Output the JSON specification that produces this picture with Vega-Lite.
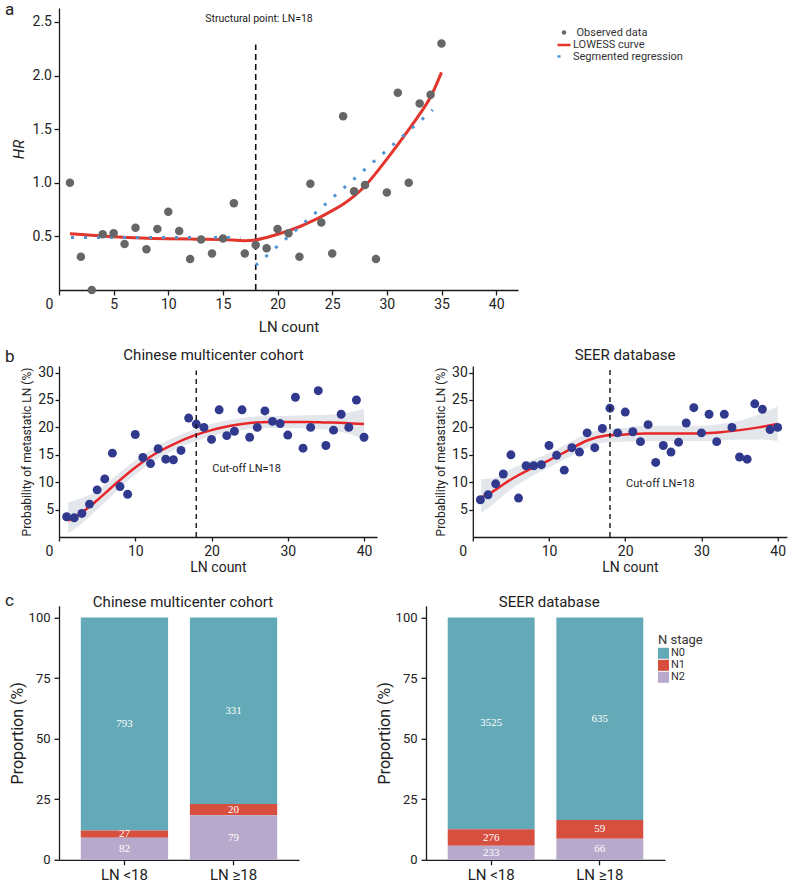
{
  "$schema": "https://vega.github.io/schema/vega-lite/v6.json",
  "background": "white",
  "padding": {"left": 5, "top": 1, "right": 5, "bottom": 5},
  "config": {
    "font": "Roboto",
    "view": {"stroke": null},
    "axis": {
      "grid": false,
      "domainColor": "#1a1a1a",
      "tickColor": "#1a1a1a",
      "domainWidth": 1.3,
      "tickWidth": 1.3,
      "labelColor": "#222222",
      "titleColor": "#222222",
      "labelFont": "Roboto",
      "titleFont": "Roboto",
      "titleFontWeight": "normal",
      "labelFontSize": 14,
      "titleFontSize": 14,
      "labelFlush": false
    },
    "title": {"font": "Roboto", "fontWeight": "normal", "color": "#222222", "fontSize": 15},
    "legend": {"labelFont": "Roboto", "titleFont": "Roboto", "titleFontWeight": "normal", "labelColor": "#333333", "titleColor": "#333333"}
  },
  "datasets": {
    "hr_observed": [
      {"ln": 1, "hr": 1.0}, {"ln": 2, "hr": 0.31}, {"ln": 3, "hr": 0.0}, {"ln": 4, "hr": 0.52}, {"ln": 5, "hr": 0.53},
      {"ln": 6, "hr": 0.43}, {"ln": 7, "hr": 0.58}, {"ln": 8, "hr": 0.38}, {"ln": 9, "hr": 0.57}, {"ln": 10, "hr": 0.73},
      {"ln": 11, "hr": 0.55}, {"ln": 12, "hr": 0.29}, {"ln": 13, "hr": 0.47}, {"ln": 14, "hr": 0.34}, {"ln": 15, "hr": 0.48},
      {"ln": 16, "hr": 0.81}, {"ln": 17, "hr": 0.34}, {"ln": 18, "hr": 0.42}, {"ln": 19, "hr": 0.39}, {"ln": 20, "hr": 0.57},
      {"ln": 21, "hr": 0.53}, {"ln": 22, "hr": 0.31}, {"ln": 23, "hr": 0.99}, {"ln": 24, "hr": 0.63}, {"ln": 25, "hr": 0.34},
      {"ln": 26, "hr": 1.62}, {"ln": 27, "hr": 0.92}, {"ln": 28, "hr": 0.98}, {"ln": 29, "hr": 0.29}, {"ln": 30, "hr": 0.91},
      {"ln": 31, "hr": 1.84}, {"ln": 32, "hr": 1.0}, {"ln": 33, "hr": 1.74}, {"ln": 34, "hr": 1.82}, {"ln": 35, "hr": 2.3}
    ],
    "hr_lowess": [
      {"ln": 1, "hr": 0.525}, {"ln": 3, "hr": 0.51}, {"ln": 5, "hr": 0.497}, {"ln": 7.5, "hr": 0.485}, {"ln": 10, "hr": 0.478},
      {"ln": 12.5, "hr": 0.474}, {"ln": 15, "hr": 0.471}, {"ln": 17, "hr": 0.46}, {"ln": 18, "hr": 0.467}, {"ln": 19, "hr": 0.49},
      {"ln": 20, "hr": 0.52}, {"ln": 21, "hr": 0.553}, {"ln": 22, "hr": 0.59}, {"ln": 23, "hr": 0.635}, {"ln": 24, "hr": 0.685},
      {"ln": 25, "hr": 0.74}, {"ln": 26, "hr": 0.80}, {"ln": 27, "hr": 0.875}, {"ln": 28, "hr": 0.97}, {"ln": 29, "hr": 1.09},
      {"ln": 30, "hr": 1.22}, {"ln": 31, "hr": 1.355}, {"ln": 32, "hr": 1.495}, {"ln": 33, "hr": 1.64}, {"ln": 34, "hr": 1.8},
      {"ln": 35, "hr": 2.03}
    ],
    "hr_segmented": [
      {"seg": "LN < 18", "ln": 1.1, "hr": 0.49}, {"seg": "LN < 18", "ln": 16.6, "hr": 0.49},
      {"seg": "LN >= 18", "ln": 18, "hr": 0.23}, {"seg": "LN >= 18", "ln": 34.2, "hr": 1.68}
    ],
    "cohort_points": [
      {"cohort": "Chinese", "ln": 1, "pct": 3.7}, {"cohort": "Chinese", "ln": 2, "pct": 3.5}, {"cohort": "Chinese", "ln": 3, "pct": 4.3},
      {"cohort": "Chinese", "ln": 4, "pct": 6.0}, {"cohort": "Chinese", "ln": 5, "pct": 8.6}, {"cohort": "Chinese", "ln": 6, "pct": 10.6},
      {"cohort": "Chinese", "ln": 7, "pct": 15.3}, {"cohort": "Chinese", "ln": 8, "pct": 9.2}, {"cohort": "Chinese", "ln": 9, "pct": 7.8},
      {"cohort": "Chinese", "ln": 10, "pct": 18.7}, {"cohort": "Chinese", "ln": 11, "pct": 14.5}, {"cohort": "Chinese", "ln": 12, "pct": 13.4},
      {"cohort": "Chinese", "ln": 13, "pct": 16.1}, {"cohort": "Chinese", "ln": 14, "pct": 14.2}, {"cohort": "Chinese", "ln": 15, "pct": 14.1},
      {"cohort": "Chinese", "ln": 16, "pct": 15.8}, {"cohort": "Chinese", "ln": 17, "pct": 21.7}, {"cohort": "Chinese", "ln": 18, "pct": 20.6},
      {"cohort": "Chinese", "ln": 19, "pct": 20.0}, {"cohort": "Chinese", "ln": 20, "pct": 17.8}, {"cohort": "Chinese", "ln": 21, "pct": 23.2},
      {"cohort": "Chinese", "ln": 22, "pct": 18.5}, {"cohort": "Chinese", "ln": 23, "pct": 19.3}, {"cohort": "Chinese", "ln": 24, "pct": 23.2},
      {"cohort": "Chinese", "ln": 25, "pct": 18.2}, {"cohort": "Chinese", "ln": 26, "pct": 20.0}, {"cohort": "Chinese", "ln": 27, "pct": 23.0},
      {"cohort": "Chinese", "ln": 28, "pct": 21.1}, {"cohort": "Chinese", "ln": 29, "pct": 20.7}, {"cohort": "Chinese", "ln": 30, "pct": 18.6},
      {"cohort": "Chinese", "ln": 31, "pct": 25.5}, {"cohort": "Chinese", "ln": 32, "pct": 16.2}, {"cohort": "Chinese", "ln": 33, "pct": 20.0},
      {"cohort": "Chinese", "ln": 34, "pct": 26.7}, {"cohort": "Chinese", "ln": 35, "pct": 16.7}, {"cohort": "Chinese", "ln": 36, "pct": 19.5},
      {"cohort": "Chinese", "ln": 37, "pct": 22.4}, {"cohort": "Chinese", "ln": 38, "pct": 20.0}, {"cohort": "Chinese", "ln": 39, "pct": 25.0},
      {"cohort": "Chinese", "ln": 40, "pct": 18.2},
      {"cohort": "SEER", "ln": 1, "pct": 6.8}, {"cohort": "SEER", "ln": 2, "pct": 7.7}, {"cohort": "SEER", "ln": 3, "pct": 9.7},
      {"cohort": "SEER", "ln": 4, "pct": 11.5}, {"cohort": "SEER", "ln": 5, "pct": 15.0}, {"cohort": "SEER", "ln": 6, "pct": 7.1},
      {"cohort": "SEER", "ln": 7, "pct": 13.0}, {"cohort": "SEER", "ln": 8, "pct": 13.0}, {"cohort": "SEER", "ln": 9, "pct": 13.2},
      {"cohort": "SEER", "ln": 10, "pct": 16.7}, {"cohort": "SEER", "ln": 11, "pct": 14.9}, {"cohort": "SEER", "ln": 12, "pct": 12.2},
      {"cohort": "SEER", "ln": 13, "pct": 16.3}, {"cohort": "SEER", "ln": 14, "pct": 15.5}, {"cohort": "SEER", "ln": 15, "pct": 19.0},
      {"cohort": "SEER", "ln": 16, "pct": 16.3}, {"cohort": "SEER", "ln": 17, "pct": 19.8}, {"cohort": "SEER", "ln": 18, "pct": 23.5},
      {"cohort": "SEER", "ln": 19, "pct": 19.0}, {"cohort": "SEER", "ln": 20, "pct": 22.8}, {"cohort": "SEER", "ln": 21, "pct": 19.2},
      {"cohort": "SEER", "ln": 22, "pct": 17.4}, {"cohort": "SEER", "ln": 23, "pct": 20.5}, {"cohort": "SEER", "ln": 24, "pct": 13.6},
      {"cohort": "SEER", "ln": 25, "pct": 16.7}, {"cohort": "SEER", "ln": 26, "pct": 15.5}, {"cohort": "SEER", "ln": 27, "pct": 17.3},
      {"cohort": "SEER", "ln": 28, "pct": 20.8}, {"cohort": "SEER", "ln": 29, "pct": 23.6}, {"cohort": "SEER", "ln": 30, "pct": 19.0},
      {"cohort": "SEER", "ln": 31, "pct": 22.4}, {"cohort": "SEER", "ln": 32, "pct": 17.4}, {"cohort": "SEER", "ln": 33, "pct": 22.4},
      {"cohort": "SEER", "ln": 34, "pct": 20.0}, {"cohort": "SEER", "ln": 35, "pct": 14.6}, {"cohort": "SEER", "ln": 36, "pct": 14.2},
      {"cohort": "SEER", "ln": 37, "pct": 24.3}, {"cohort": "SEER", "ln": 38, "pct": 23.3}, {"cohort": "SEER", "ln": 39, "pct": 19.6},
      {"cohort": "SEER", "ln": 40, "pct": 20.0}
    ],
    "cohort_fit": [
      {"cohort": "Chinese", "ln": 1.2, "pct": 3.0, "lo": 0.7, "hi": 6.3},
      {"cohort": "Chinese", "ln": 2.5, "pct": 4.0, "lo": 1.9, "hi": 6.9},
      {"cohort": "Chinese", "ln": 5, "pct": 6.7, "lo": 5.0, "hi": 8.4},
      {"cohort": "Chinese", "ln": 7.5, "pct": 9.8, "lo": 8.3, "hi": 11.2},
      {"cohort": "Chinese", "ln": 10, "pct": 12.7, "lo": 11.4, "hi": 14.0},
      {"cohort": "Chinese", "ln": 12.5, "pct": 15.1, "lo": 13.9, "hi": 16.3},
      {"cohort": "Chinese", "ln": 15, "pct": 16.9, "lo": 15.8, "hi": 18.1},
      {"cohort": "Chinese", "ln": 17.5, "pct": 18.4, "lo": 17.3, "hi": 19.5},
      {"cohort": "Chinese", "ln": 20, "pct": 19.5, "lo": 18.4, "hi": 20.6},
      {"cohort": "Chinese", "ln": 22.5, "pct": 20.3, "lo": 19.2, "hi": 21.4},
      {"cohort": "Chinese", "ln": 25, "pct": 20.8, "lo": 19.7, "hi": 21.9},
      {"cohort": "Chinese", "ln": 27.5, "pct": 21.0, "lo": 19.9, "hi": 22.1},
      {"cohort": "Chinese", "ln": 30, "pct": 21.0, "lo": 19.9, "hi": 22.1},
      {"cohort": "Chinese", "ln": 32.5, "pct": 21.0, "lo": 19.8, "hi": 22.2},
      {"cohort": "Chinese", "ln": 35, "pct": 20.9, "lo": 19.6, "hi": 22.3},
      {"cohort": "Chinese", "ln": 37.5, "pct": 20.8, "lo": 19.0, "hi": 22.6},
      {"cohort": "Chinese", "ln": 40, "pct": 20.6, "lo": 17.8, "hi": 23.4},
      {"cohort": "SEER", "ln": 1.1, "pct": 7.2, "lo": 4.4, "hi": 10.6},
      {"cohort": "SEER", "ln": 2.5, "pct": 8.2, "lo": 5.8, "hi": 10.7},
      {"cohort": "SEER", "ln": 5, "pct": 10.5, "lo": 8.7, "hi": 12.4},
      {"cohort": "SEER", "ln": 7.5, "pct": 12.4, "lo": 10.9, "hi": 13.9},
      {"cohort": "SEER", "ln": 10, "pct": 14.0, "lo": 12.7, "hi": 15.3},
      {"cohort": "SEER", "ln": 12.5, "pct": 15.8, "lo": 14.5, "hi": 17.1},
      {"cohort": "SEER", "ln": 15, "pct": 17.6, "lo": 16.3, "hi": 18.9},
      {"cohort": "SEER", "ln": 17.5, "pct": 18.5, "lo": 17.3, "hi": 19.7},
      {"cohort": "SEER", "ln": 20, "pct": 18.7, "lo": 17.4, "hi": 20.0},
      {"cohort": "SEER", "ln": 22.5, "pct": 18.9, "lo": 17.5, "hi": 20.3},
      {"cohort": "SEER", "ln": 25, "pct": 18.9, "lo": 17.5, "hi": 20.3},
      {"cohort": "SEER", "ln": 27.5, "pct": 18.9, "lo": 17.5, "hi": 20.3},
      {"cohort": "SEER", "ln": 30, "pct": 18.9, "lo": 17.5, "hi": 20.3},
      {"cohort": "SEER", "ln": 32.5, "pct": 19.1, "lo": 17.6, "hi": 20.6},
      {"cohort": "SEER", "ln": 35, "pct": 19.5, "lo": 17.8, "hi": 21.2},
      {"cohort": "SEER", "ln": 37.5, "pct": 20.0, "lo": 17.8, "hi": 22.3},
      {"cohort": "SEER", "ln": 40, "pct": 20.6, "lo": 17.5, "hi": 23.8}
    ],
    "stage_counts": [
      {"cohort": "Chinese", "grp": "LN <18", "stage": "N0", "n": 793},
      {"cohort": "Chinese", "grp": "LN <18", "stage": "N1", "n": 27},
      {"cohort": "Chinese", "grp": "LN <18", "stage": "N2", "n": 82},
      {"cohort": "Chinese", "grp": "LN ≥18", "stage": "N0", "n": 331},
      {"cohort": "Chinese", "grp": "LN ≥18", "stage": "N1", "n": 20},
      {"cohort": "Chinese", "grp": "LN ≥18", "stage": "N2", "n": 79},
      {"cohort": "SEER", "grp": "LN <18", "stage": "N0", "n": 3525},
      {"cohort": "SEER", "grp": "LN <18", "stage": "N1", "n": 276},
      {"cohort": "SEER", "grp": "LN <18", "stage": "N2", "n": 233},
      {"cohort": "SEER", "grp": "LN ≥18", "stage": "N0", "n": 635},
      {"cohort": "SEER", "grp": "LN ≥18", "stage": "N1", "n": 59},
      {"cohort": "SEER", "grp": "LN ≥18", "stage": "N2", "n": 66}
    ]
  },
  "spacing": 14,
  "resolve": {"scale": {"color": "independent"}, "legend": {"color": "independent"}},
  "vconcat": [
    {
      "title": {"text": "a", "anchor": "start", "frame": "group", "fontSize": 17, "dx": -54, "dy": 24, "offset": 0, "baseline": "alphabetic"},
      "width": 459,
      "height": 282,
      "encoding": {
        "x": {
          "field": "ln", "type": "quantitative",
          "scale": {"domain": [0, 42], "nice": false, "zero": false},
          "axis": {
            "values": [0, 5, 10, 15, 20, 25, 30, 35, 40], "title": "LN count", "titleFontSize": 15, "titlePadding": 8,
            "tickSize": 5, "labelPadding": 2,
            "labelOffset": {"condition": {"test": "datum.value === 0", "value": -10}, "value": 0}
          }
        },
        "y": {
          "field": "hr", "type": "quantitative",
          "scale": {"domain": [0, 2.63], "nice": false},
          "axis": {"values": [0.5, 1, 1.5, 2, 2.5], "format": ".1f", "title": "HR", "titleFontStyle": "italic", "titleFontSize": 15, "titlePadding": 6, "tickSize": 5, "labelPadding": 2.5}
        }
      },
      "layer": [
        {
          "data": {"values": [{"ln": 18, "hr": 0, "hr_top": 2.29}]},
          "mark": {"type": "rule", "strokeDash": [6, 4], "strokeWidth": 1.6, "color": "#111111"},
          "encoding": {"y2": {"field": "hr_top"}}
        },
        {
          "data": {"name": "hr_lowess"},
          "mark": {"type": "line", "strokeWidth": 3, "interpolate": "monotone"},
          "encoding": {
            "stroke": {
              "datum": "LOWESS curve", "type": "nominal",
              "scale": {"domain": ["LOWESS curve"], "range": ["#E2352B"]},
              "legend": {
                "title": null, "orient": "none", "legendX": 497, "legendY": 29, "padding": 0,
                "symbolType": "stroke", "symbolSize": 169, "symbolStrokeWidth": 2.5,
                "labelFontSize": 11, "labelOffset": 1
              }
            }
          }
        },
        {
          "data": {"name": "hr_segmented"},
          "mark": {"type": "line", "strokeWidth": 3, "strokeCap": "butt", "color": "#4E93D3"},
          "encoding": {
            "detail": {"field": "seg"},
            "strokeDash": {
              "datum": "Segmented regression", "type": "nominal",
              "scale": {"domain": ["Segmented regression"], "range": [[3, 10]]},
              "legend": {
                "title": null, "orient": "none", "legendX": 497, "legendY": 40.5, "padding": 0,
                "symbolType": "stroke", "symbolSize": 169, "symbolStrokeWidth": 2.5, "symbolStrokeColor": "#4E93D3",
                "labelFontSize": 11, "labelOffset": 1
              }
            }
          }
        },
        {
          "data": {"name": "hr_observed"},
          "mark": {"type": "circle", "size": 72, "opacity": 1},
          "encoding": {
            "color": {
              "datum": "Observed data", "type": "nominal",
              "scale": {"domain": ["Observed data"], "range": ["#666666"]},
              "legend": {
                "title": null, "orient": "none", "legendX": 499.5, "legendY": 19, "padding": 0,
                "symbolType": "circle", "symbolSize": 20,
                "labelFontSize": 11, "labelOffset": 7
              }
            }
          }
        },
        {
          "data": {"values": [{"ln": 18.3, "hr": 2.53, "label": "Structural point: LN=18"}]},
          "mark": {"type": "text", "fontSize": 10.5, "color": "#222222", "baseline": "middle"},
          "encoding": {"text": {"field": "label"}}
        }
      ]
    },
    {
      "spacing": 17.8,
      "resolve": {"scale": {"color": "independent"}, "legend": {"color": "independent"}},
      "vconcat": [
        {
          "title": {"text": "b", "anchor": "start", "frame": "group", "fontSize": 17, "dx": -54, "dy": 31, "offset": 0, "baseline": "alphabetic"},
          "bounds": "flush",
          "spacing": 95.8,
          "hconcat": [
            {
              "title": {"text": "Chinese multicenter cohort", "offset": 2.5, "dx": -4.5},
              "width": 318,
              "height": 171,
              "encoding": {
                "x": {
                  "field": "ln", "type": "quantitative",
                  "scale": {"domain": [0, 41.7], "nice": false, "zero": false},
                  "axis": {
                    "values": [0, 10, 20, 30, 40], "title": "LN count", "titlePadding": 2, "tickSize": 4, "labelPadding": 3,
                    "labelOffset": {"condition": {"test": "datum.value === 0", "value": -10}, "value": 0}
                  }
                },
                "y": {
                  "field": "pct", "type": "quantitative",
                  "scale": {"domain": [0, 31.2], "nice": false},
                  "axis": {"values": [5, 10, 15, 20, 25, 30], "title": "Probability of metastatic LN (%)", "titleFontSize": 12, "titlePadding": 4, "tickSize": 4, "labelPadding": 1.5}
                }
              },
              "layer": [
                {
                  "data": {"name": "cohort_fit"},
                  "transform": [{"filter": "datum.cohort === 'Chinese'"}],
                  "mark": {"type": "area", "color": "#d9dde4", "opacity": 0.75, "interpolate": "monotone"},
                  "encoding": {"y": {"field": "lo", "type": "quantitative"}, "y2": {"field": "hi"}}
                },
                {
                  "data": {"name": "cohort_fit"},
                  "transform": [{"filter": "datum.cohort === 'Chinese'"}],
                  "mark": {"type": "line", "color": "#E8262A", "strokeWidth": 2.5, "interpolate": "monotone"}
                },
                {
                  "data": {"name": "cohort_points"},
                  "transform": [{"filter": "datum.cohort === 'Chinese'"}],
                  "mark": {"type": "circle", "size": 80, "opacity": 1, "color": "#30398E"}
                },
                {
                  "data": {"values": [{"ln": 18, "pct": 0, "top": 30.4}]},
                  "mark": {"type": "rule", "strokeDash": [5, 4], "strokeWidth": 1.4, "color": "#111111"},
                  "encoding": {"y2": {"field": "top"}}
                },
                {
                  "data": {"values": [{"ln": 20.1, "pct": 12.4, "label": "Cut-off LN=18"}]},
                  "mark": {"type": "text", "fontSize": 11, "color": "#222222", "align": "left", "baseline": "middle"},
                  "encoding": {"text": {"field": "label"}}
                }
              ]
            },
            {
              "title": {"text": "SEER database", "offset": 2.5, "dx": -4.7},
              "width": 314,
              "height": 171,
              "encoding": {
                "x": {
                  "field": "ln", "type": "quantitative",
                  "scale": {"domain": [0, 41.2], "nice": false, "zero": false},
                  "axis": {
                    "values": [0, 10, 20, 30, 40], "title": "LN count", "titlePadding": 2, "tickSize": 4, "labelPadding": 3,
                    "labelOffset": {"condition": {"test": "datum.value === 0", "value": -10}, "value": 0}
                  }
                },
                "y": {
                  "field": "pct", "type": "quantitative",
                  "scale": {"domain": [0, 31.2], "nice": false},
                  "axis": {"values": [5, 10, 15, 20, 25, 30], "title": "Probability of metastatic LN (%)", "titleFontSize": 12, "titlePadding": 4, "tickSize": 4, "labelPadding": 1.5}
                }
              },
              "layer": [
                {
                  "data": {"name": "cohort_fit"},
                  "transform": [{"filter": "datum.cohort === 'SEER'"}],
                  "mark": {"type": "area", "color": "#d9dde4", "opacity": 0.75, "interpolate": "monotone"},
                  "encoding": {"y": {"field": "lo", "type": "quantitative"}, "y2": {"field": "hi"}}
                },
                {
                  "data": {"name": "cohort_fit"},
                  "transform": [{"filter": "datum.cohort === 'SEER'"}],
                  "mark": {"type": "line", "color": "#E8262A", "strokeWidth": 2.5, "interpolate": "monotone"}
                },
                {
                  "data": {"name": "cohort_points"},
                  "transform": [{"filter": "datum.cohort === 'SEER'"}],
                  "mark": {"type": "circle", "size": 80, "opacity": 1, "color": "#30398E"}
                },
                {
                  "data": {"values": [{"ln": 18, "pct": 0, "top": 30.5}]},
                  "mark": {"type": "rule", "strokeDash": [5, 4], "strokeWidth": 1.4, "color": "#111111"},
                  "encoding": {"y2": {"field": "top"}}
                },
                {
                  "data": {"values": [{"ln": 20.1, "pct": 9.6, "label": "Cut-off LN=18"}]},
                  "mark": {"type": "text", "fontSize": 11, "color": "#222222", "align": "left", "baseline": "middle"},
                  "encoding": {"text": {"field": "label"}}
                }
              ]
            }
          ]
        },
        {
          "title": {"text": "c", "anchor": "start", "frame": "group", "fontSize": 17, "dx": -54, "dy": 28.7, "offset": 0, "baseline": "alphabetic"},
          "bounds": "flush",
          "spacing": 127,
          "resolve": {"scale": {"color": "independent"}, "legend": {"color": "independent"}},
          "hconcat": [
            {
              "title": {"text": "Chinese multicenter cohort", "offset": -3.8, "dx": 4},
              "width": 240,
              "height": 254,
              "data": {"name": "stage_counts"},
              "transform": [
                {"filter": "datum.cohort === 'Chinese'"},
                {"stack": "n", "groupby": ["grp"], "sort": [{"field": "stage", "order": "descending"}], "offset": "normalize", "as": ["y0", "y1"]}
              ],
              "encoding": {
                "x": {
                  "field": "grp", "type": "nominal", "sort": ["LN <18", "LN ≥18"],
                  "scale": {"paddingInner": 0.2, "paddingOuter": 0.2},
                  "axis": {"title": null, "labelAngle": 0, "labelFontSize": 15, "tickSize": 5, "labelPadding": 3}
                }
              },
              "layer": [
                {
                  "mark": {"type": "bar"},
                  "encoding": {
                    "y": {
                      "field": "y0", "type": "quantitative",
                      "scale": {"domain": [0, 1.048], "nice": false},
                      "axis": {"values": [0, 0.25, 0.5, 0.75, 1], "labelExpr": "format(datum.value * 100, 'd')", "title": "Proportion (%)", "titleFontSize": 16, "labelFontSize": 13, "titlePadding": 3, "tickSize": 5, "labelPadding": 4}
                    },
                    "y2": {"field": "y1"},
                    "color": {
                      "field": "stage", "type": "nominal",
                      "scale": {"domain": ["N0", "N1", "N2"], "range": ["#63A9B7", "#D64F3F", "#B6A9CB"]},
                      "legend": null
                    }
                  }
                },
                {
                  "transform": [
                    {"fold": ["y0", "y1"], "as": ["edge", "pos"]},
                    {"aggregate": [{"op": "mean", "field": "pos", "as": "mid"}], "groupby": ["grp", "stage", "n"]}
                  ],
                  "mark": {"type": "text", "font": "Liberation Serif", "fontSize": 11, "color": "white", "baseline": "middle"},
                  "encoding": {
                    "y": {"field": "mid", "type": "quantitative"},
                    "text": {"field": "n", "type": "quantitative", "format": "d"}
                  }
                }
              ]
            },
            {
              "title": {"text": "SEER database", "offset": -3.8, "dx": 3.7},
              "width": 239,
              "height": 254,
              "data": {"name": "stage_counts"},
              "transform": [
                {"filter": "datum.cohort === 'SEER'"},
                {"stack": "n", "groupby": ["grp"], "sort": [{"field": "stage", "order": "descending"}], "offset": "normalize", "as": ["y0", "y1"]}
              ],
              "encoding": {
                "x": {
                  "field": "grp", "type": "nominal", "sort": ["LN <18", "LN ≥18"],
                  "scale": {"paddingInner": 0.2, "paddingOuter": 0.2},
                  "axis": {"title": null, "labelAngle": 0, "labelFontSize": 15, "tickSize": 5, "labelPadding": 3}
                }
              },
              "layer": [
                {
                  "mark": {"type": "bar"},
                  "encoding": {
                    "y": {
                      "field": "y0", "type": "quantitative",
                      "scale": {"domain": [0, 1.048], "nice": false},
                      "axis": {"values": [0, 0.25, 0.5, 0.75, 1], "labelExpr": "format(datum.value * 100, 'd')", "title": "Proportion (%)", "titleFontSize": 16, "labelFontSize": 13, "titlePadding": 3, "tickSize": 5, "labelPadding": 4}
                    },
                    "y2": {"field": "y1"},
                    "color": {
                      "field": "stage", "type": "nominal",
                      "scale": {"domain": ["N0", "N1", "N2"], "range": ["#63A9B7", "#D64F3F", "#B6A9CB"]},
                      "legend": {
                        "title": "N stage", "orient": "none", "legendX": 232, "legendY": 28, "padding": 0,
                        "symbolType": "square", "symbolSize": 121, "symbolStrokeWidth": 0,
                        "labelFontSize": 11, "titleFontSize": 13, "labelOffset": 2, "rowPadding": 0, "titlePadding": 1
                      }
                    }
                  }
                },
                {
                  "transform": [
                    {"fold": ["y0", "y1"], "as": ["edge", "pos"]},
                    {"aggregate": [{"op": "mean", "field": "pos", "as": "mid"}], "groupby": ["grp", "stage", "n"]}
                  ],
                  "mark": {"type": "text", "font": "Liberation Serif", "fontSize": 11, "color": "white", "baseline": "middle"},
                  "encoding": {
                    "y": {"field": "mid", "type": "quantitative"},
                    "text": {"field": "n", "type": "quantitative", "format": "d"}
                  }
                }
              ]
            }
          ]
        }
      ]
    }
  ]
}
